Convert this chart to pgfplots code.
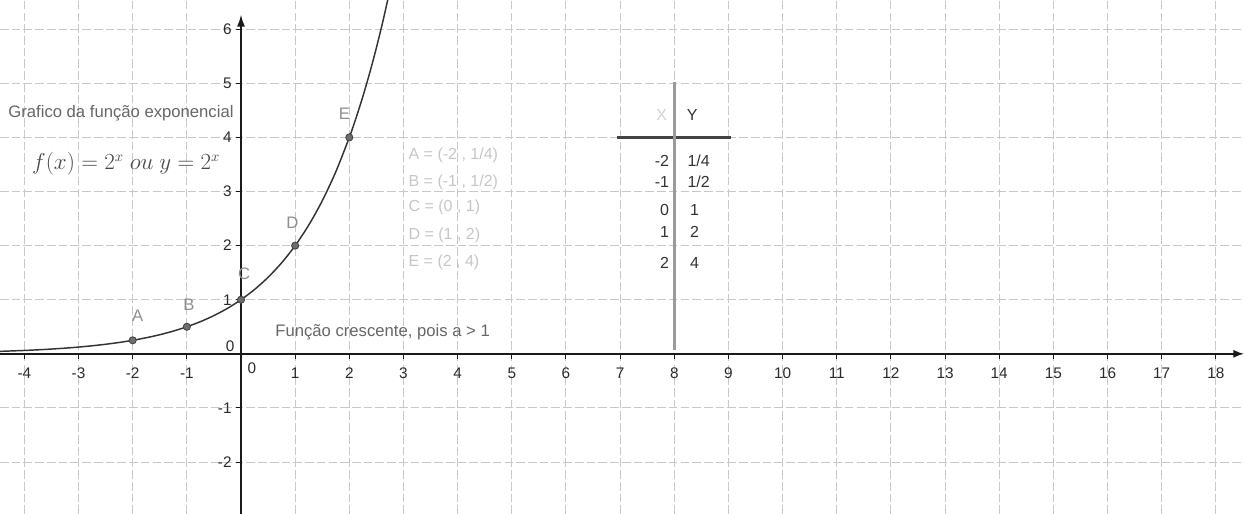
\documentclass[border=0pt]{standalone}
\usepackage{fontspec}
\setmainfont{Liberation Sans}
\usepackage{pgfplots}
\pgfplotsset{compat=1.18}
\usetikzlibrary{arrows.meta}

\definecolor{gridgray}{HTML}{C8C8C8}
\definecolor{axisblack}{HTML}{1A1A1A}
\definecolor{ticktext}{HTML}{2A2A2A}
\definecolor{curvegray}{HTML}{333333}
\definecolor{ptfill}{HTML}{6E6E6E}
\definecolor{ptdraw}{HTML}{404040}
\definecolor{ptlabel}{HTML}{8F8F8F}
\definecolor{titlegray}{HTML}{666666}
\definecolor{formulagray}{HTML}{484848}
\definecolor{listgray}{HTML}{C6C6C6}
\definecolor{tabdark}{HTML}{333333}
\definecolor{tabvert}{HTML}{9A9A9A}
\definecolor{tabhorz}{HTML}{444444}

\begin{document}
\begin{tikzpicture}
\begin{axis}[
  scale only axis,
  width=933pt, height=385.5pt,
  xmin=-4.45, xmax=18.52,
  ymin=-2.96, ymax=6.54,
  axis lines=middle,
  axis line style={axisblack, line width=1.1pt},
  x axis line style={-{Latex[length=8pt,width=6pt]}},
  y axis line style={-{Latex[length=9pt,width=6pt]}, shorten >=11pt},
  xtick={-4,-3,-2,-1,1,2,...,18},
  ytick={-3,-2,-1,1,2,...,6},
  tick align=outside,
  major tick length=3.5pt,
  tick style={axisblack, line width=0.8pt},
  grid=major,
  grid style={gridgray, line width=0.7pt, dash pattern=on 6.5pt off 2.3pt},
  /pgf/number format/assume math mode=true,
  xticklabel={\pgfmathprintnumber{\tick}},
  yticklabel={\pgfmathprintnumber{\tick}},
  every tick label/.append style={font=\fontsize{11.5}{13}\selectfont, text=ticktext},
  xticklabel style={anchor=base, yshift=-15pt},
  clip=true,
]
% the exponential curve y = 2^x
\addplot[smooth, curvegray, line width=1.1pt] coordinates {
  (-4.45,0.04575) (-4,0.0625) (-3.75,0.07433) (-3.5,0.08839) (-3.25,0.10511)
  (-3,0.125) (-2.75,0.14865) (-2.5,0.17678) (-2.25,0.21022) (-2,0.25)
  (-1.75,0.29730) (-1.5,0.35355) (-1.25,0.42045) (-1,0.5) (-0.75,0.59460)
  (-0.5,0.70711) (-0.25,0.84090) (0,1) (0.25,1.18921) (0.5,1.41421)
  (0.75,1.68179) (1,2) (1.25,2.37841) (1.5,2.82843) (1.75,3.36359)
  (2,4) (2.125,4.36203) (2.25,4.75683) (2.375,5.18742) (2.5,5.65685)
  (2.625,6.16884) (2.75,6.72717)
};
% table of values: header rule and column divider
\addplot[tabhorz, line width=2.2pt] coordinates {(6.95,4) (9.05,4)};
\addplot[tabvert, line width=2.2pt] coordinates {(8,5.03) (8,0.08)};
% the points A to E
\addplot[only marks, mark=*, mark size=2.7pt,
  mark options={fill=ptfill, draw=ptdraw, line width=0.6pt}] coordinates {
  (-2,0.25) (-1,0.5) (0,1) (1,2) (2,4)
};

% origin labels
\node[anchor=base, font=\fontsize{11.5}{13}\selectfont, text=ticktext] at (axis cs:0.2,-0.37) {0};
\node[anchor=base, font=\fontsize{11.5}{13}\selectfont, text=ticktext] at (axis cs:-0.2,0.04) {0};

% point names
\begin{scope}[every node/.style={anchor=base, font=\fontsize{12.5}{14}\selectfont, text=ptlabel, inner sep=0pt}]
\node at (axis cs:-1.91,0.60) {A};
\node at (axis cs:-0.96,0.81) {B};
\node at (axis cs:0.06,1.37) {C};
\node at (axis cs:0.95,2.32) {D};
\node at (axis cs:1.91,4.34) {E};
\end{scope}

% titles
\node[anchor=base west, inner sep=0pt, text=titlegray, font=\fontsize{12.5}{15}\selectfont]
  at (axis cs:-4.30,4.375) {Grafico da função exponencial};
\node[anchor=base west, inner sep=0pt, text=formulagray, font=\fontsize{16}{19}\selectfont]
  at (axis cs:-3.86,3.40) {\(f(x)=2^{x}\ ou\ y=2^{x}\)};
\node[anchor=base west, inner sep=0pt, text=titlegray, font=\fontsize{12.5}{15}\selectfont]
  at (axis cs:0.63,0.314) {Função crescente, pois a > 1};

% coordinates of the points
\begin{scope}[every node/.style={anchor=base west, inner sep=0pt, text=listgray, font=\fontsize{12}{14}\selectfont}]
\node at (axis cs:3.09,3.60) {A = (-2 , 1/4)};
\node at (axis cs:3.09,3.09) {B = (-1 , 1/2)};
\node at (axis cs:3.09,2.63) {C = (0 , 1)};
\node at (axis cs:3.09,2.12) {D = (1 , 2)};
\node at (axis cs:3.09,1.61) {E = (2 , 4)};
\end{scope}

% table header
\node[anchor=base, inner sep=0pt, text=listgray!80, font=\fontsize{12}{14}\selectfont] at (axis cs:7.77,4.31) {X};
\node[anchor=base, inner sep=0pt, text=tabdark, font=\fontsize{12}{14}\selectfont] at (axis cs:8.33,4.31) {Y};

% table body
\begin{scope}[every node/.style={inner sep=0pt, text=tabdark, font=\fontsize{12}{14}\selectfont}]
\node[anchor=base east] at (axis cs:7.91,3.46) {-2};
\node[anchor=base east] at (axis cs:7.91,3.08) {-1};
\node[anchor=base east] at (axis cs:7.91,2.56) {0};
\node[anchor=base east] at (axis cs:7.91,2.15) {1};
\node[anchor=base east] at (axis cs:7.91,1.57) {2};
\node[anchor=base west] at (axis cs:8.24,3.46) {1/4};
\node[anchor=base west] at (axis cs:8.24,3.08) {1/2};
\node[anchor=base west] at (axis cs:8.29,2.56) {1};
\node[anchor=base west] at (axis cs:8.29,2.15) {2};
\node[anchor=base west] at (axis cs:8.29,1.57) {4};
\end{scope}
\end{axis}
\pgfresetboundingbox
\useasboundingbox (current axis.south west) rectangle (current axis.north east);
\end{tikzpicture}
\end{document}
